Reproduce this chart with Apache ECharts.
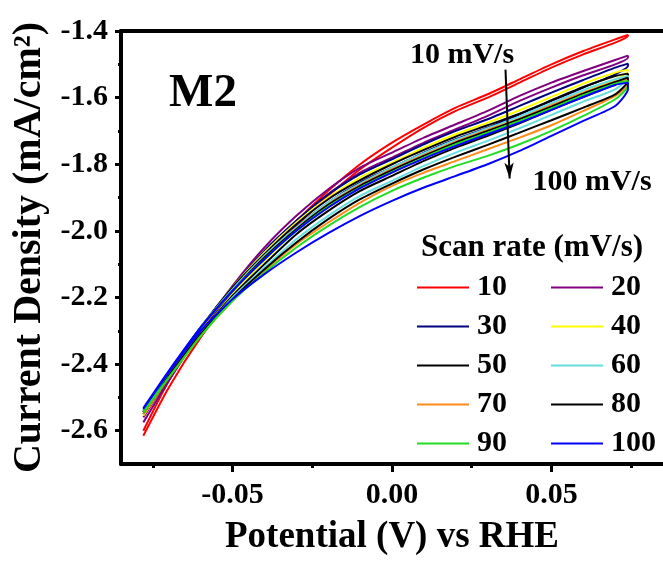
<!DOCTYPE html>
<html>
<head>
<meta charset="utf-8">
<script src="https://cdn.jsdelivr.net/npm/echarts@6/dist/echarts.min.js"></script>
<style>
html,body{margin:0;padding:0;background:#fff;}
#chart{width:663px;height:561px;}
</style>
</head>
<body>
<div id="chart"></div>
<script>
// ---- data ----
const potentials = [-0.078, -0.07, -0.06, -0.05, -0.04, -0.03, -0.02, -0.01, 0, 0.01, 0.02, 0.03, 0.04, 0.05, 0.06, 0.07, 0.074];
const scanRates = ['10', '20', '30', '40', '50', '60', '70', '80', '90', '100'];

const up10 = [-2.60, -2.45, -2.30, -2.18, -2.07, -1.97, -1.88, -1.80, -1.735, -1.68, -1.63, -1.59, -1.545, -1.50, -1.46, -1.425, -1.412];
const lo10 = [-2.615, -2.47, -2.32, -2.195, -2.085, -1.985, -1.895, -1.815, -1.75, -1.69, -1.64, -1.60, -1.555, -1.51, -1.47, -1.435, -1.415];
const up20 = [-2.56, -2.44, -2.295, -2.165, -2.05, -1.955, -1.875, -1.81, -1.765, -1.72, -1.68, -1.64, -1.595, -1.555, -1.52, -1.487, -1.474];
const lo20 = [-2.575, -2.45, -2.305, -2.175, -2.065, -1.97, -1.89, -1.825, -1.78, -1.735, -1.695, -1.655, -1.61, -1.57, -1.533, -1.50, -1.48];
const up30 = [-2.545, -2.43, -2.295, -2.17, -2.06, -1.97, -1.89, -1.83, -1.785, -1.74, -1.70, -1.665, -1.625, -1.585, -1.547, -1.51, -1.498];
const lo30 = [-2.55, -2.44, -2.305, -2.185, -2.08, -1.99, -1.915, -1.855, -1.81, -1.765, -1.725, -1.69, -1.65, -1.61, -1.57, -1.53, -1.505];
const up40 = [-2.55, -2.43, -2.295, -2.17, -2.065, -1.975, -1.90, -1.84, -1.795, -1.75, -1.71, -1.675, -1.638, -1.598, -1.558, -1.525, -1.516];
const lo40 = [-2.555, -2.44, -2.31, -2.19, -2.09, -2.00, -1.93, -1.87, -1.825, -1.78, -1.74, -1.705, -1.665, -1.625, -1.585, -1.545, -1.52];
const up50 = [-2.545, -2.43, -2.29, -2.17, -2.07, -1.98, -1.905, -1.848, -1.80, -1.757, -1.717, -1.683, -1.648, -1.608, -1.568, -1.535, -1.528];
const lo50 = [-2.55, -2.44, -2.31, -2.195, -2.10, -2.01, -1.94, -1.88, -1.835, -1.79, -1.75, -1.715, -1.677, -1.637, -1.598, -1.56, -1.532];
const up60 = [-2.54, -2.425, -2.29, -2.175, -2.075, -1.99, -1.915, -1.858, -1.81, -1.767, -1.727, -1.692, -1.657, -1.617, -1.578, -1.545, -1.535];
const lo60 = [-2.545, -2.435, -2.31, -2.20, -2.11, -2.025, -1.955, -1.895, -1.85, -1.805, -1.765, -1.73, -1.692, -1.652, -1.612, -1.575, -1.54];
const up70 = [-2.545, -2.43, -2.295, -2.18, -2.08, -1.995, -1.92, -1.862, -1.815, -1.772, -1.732, -1.697, -1.663, -1.623, -1.585, -1.552, -1.545];
const lo70 = [-2.55, -2.44, -2.315, -2.21, -2.12, -2.04, -1.975, -1.915, -1.865, -1.825, -1.79, -1.755, -1.72, -1.683, -1.64, -1.595, -1.56];
const up80 = [-2.54, -2.425, -2.29, -2.18, -2.08, -1.995, -1.922, -1.865, -1.818, -1.775, -1.735, -1.70, -1.665, -1.627, -1.588, -1.553, -1.54];
const lo80 = [-2.545, -2.435, -2.31, -2.205, -2.115, -2.035, -1.965, -1.905, -1.858, -1.815, -1.777, -1.742, -1.705, -1.668, -1.63, -1.59, -1.55];
const up90 = [-2.54, -2.425, -2.29, -2.18, -2.085, -2.00, -1.927, -1.87, -1.823, -1.78, -1.74, -1.705, -1.67, -1.632, -1.593, -1.558, -1.55];
const lo90 = [-2.545, -2.44, -2.315, -2.21, -2.125, -2.05, -1.985, -1.928, -1.88, -1.84, -1.805, -1.775, -1.74, -1.70, -1.655, -1.605, -1.565];
const up100 = [-2.532, -2.42, -2.29, -2.18, -2.085, -2.00, -1.93, -1.872, -1.825, -1.783, -1.745, -1.71, -1.675, -1.637, -1.598, -1.562, -1.555];
const lo100 = [-2.535, -2.425, -2.30, -2.205, -2.13, -2.065, -2.007, -1.955, -1.91, -1.87, -1.835, -1.80, -1.76, -1.715, -1.67, -1.625, -1.575];

const xMajorTicks = [-0.05, 0, 0.05];
const xMinorTicks = [-0.075, -0.025, 0.025, 0.075];
const yMajorTicks = [-2.6, -2.4, -2.2, -2.0, -1.8, -1.6, -1.4];
const yMinorTicks = [-2.5, -2.3, -2.1, -1.9, -1.7, -1.5];
const arrowStart = [0.0356, -1.516];
const arrowEnd = [0.0369, -1.843];

// ---- styles ----
const colors = ['#ff0000', '#800080', '#000080', '#ffff00', '#000000', '#66dede', '#ff8c1a', '#000000', '#22dd22', '#0000ff'];
const FONT = '"Liberation Serif", "Times New Roman", serif';

const uppers = [up10, up20, up30, up40, up50, up60, up70, up80, up90, up100];
const lowers = [lo10, lo20, lo30, lo40, lo50, lo60, lo70, lo80, lo90, lo100];

function loop(up, lo) {
  const d = [];
  for (let i = 0; i < potentials.length; i++) d.push([potentials[i], up[i]]);
  for (let i = potentials.length - 1; i >= 0; i--) d.push([potentials[i], lo[i]]);
  return d;
}

const series = scanRates.map((name, k) => {
  const s = {
    name: name,
    type: 'line',
    data: loop(uppers[k], lowers[k]),
    showSymbol: false,
    symbol: 'none',
    smooth: 0.2,
    color: colors[k],
    lineStyle: { width: 2, color: colors[k] },
    xAxisIndex: 0,
    yAxisIndex: 0,
    silent: true
  };
  if (k === 0) {
    s.markLine = {
      silent: true,
      symbol: ['none', 'arrow'],
      symbolSize: [7, 16],
      label: { show: false },
      lineStyle: { color: '#000', width: 2, type: 'solid' },
      data: [[{ coord: arrowStart }, { coord: arrowEnd }]]
    };
  }
  return s;
});

const tickLabelFont = { fontFamily: FONT, fontWeight: 'bold', fontSize: 30, color: '#000' };

const option = {
  animation: false,
  backgroundColor: '#fff',
  grid: { left: 121, right: 0, top: 31, bottom: 94, containLabel: false },
  xAxis: [
    {
      type: 'value', min: -0.085, max: 0.085, position: 'bottom',
      axisLine: { show: true, onZero: false, lineStyle: { color: '#000', width: 4 } },
      axisTick: { show: true, customValues: xMajorTicks, length: 8, lineStyle: { color: '#000', width: 3 } },
      axisLabel: Object.assign({ show: true, customValues: xMajorTicks, margin: 16,
        formatter: v => v.toFixed(2) }, tickLabelFont),
      splitLine: { show: false },
      name: 'Potential (V) vs RHE', nameLocation: 'middle', nameGap: 55,
      nameTextStyle: { fontFamily: FONT, fontWeight: 'bold', fontSize: 37, color: '#000' }
    },
    {
      type: 'value', min: -0.085, max: 0.085, position: 'bottom',
      axisLine: { show: false, onZero: false },
      axisTick: { show: true, customValues: xMinorTicks, length: 4, lineStyle: { color: '#000', width: 3 } },
      axisLabel: { show: false },
      splitLine: { show: false }
    },
    {
      type: 'value', min: -0.085, max: 0.085, position: 'top',
      axisLine: { show: true, onZero: false, lineStyle: { color: '#000', width: 4 } },
      axisTick: { show: false },
      axisLabel: { show: false },
      splitLine: { show: false }
    }
  ],
  yAxis: [
    {
      type: 'value', min: -2.7, max: -1.4, position: 'left',
      axisLine: { show: true, onZero: false, lineStyle: { color: '#000', width: 4 } },
      axisTick: { show: true, customValues: yMajorTicks, length: 6, lineStyle: { color: '#000', width: 3 } },
      axisLabel: Object.assign({ show: true, customValues: yMajorTicks, margin: 13,
        formatter: v => v.toFixed(1) }, tickLabelFont),
      splitLine: { show: false },
      name: 'Current Density (mA/cm²)', nameLocation: 'middle', nameGap: 59, nameRotate: 90,
      nameTextStyle: { fontFamily: FONT, fontWeight: 'bold', fontSize: 40, color: '#000' }
    },
    {
      type: 'value', min: -2.7, max: -1.4, position: 'left',
      axisLine: { show: false, onZero: false },
      axisTick: { show: true, customValues: yMinorTicks, length: 3, lineStyle: { color: '#000', width: 3 } },
      axisLabel: { show: false },
      splitLine: { show: false }
    }
  ],
  legend: {
    data: scanRates,
    orient: 'horizontal',
    left: 417, top: 270, width: 270,
    itemWidth: 52, itemHeight: 2, itemGap: 4,
    icon: 'rect',
    selectedMode: false,
    padding: 0,
    textStyle: { fontFamily: FONT, fontWeight: 'bold', fontSize: 30, color: '#000', width: 70, lineHeight: 35, padding: [0, 0, 0, 3] }
  },
  graphic: [
    { type: 'text', x: 203, y: 94, style: { text: 'M2', font: 'bold 47px ' + FONT, fill: '#000', textAlign: 'center', textVerticalAlign: 'middle' } },
    { type: 'text', x: 462, y: 55, style: { text: '10 mV/s', font: 'bold 30px ' + FONT, fill: '#000', textAlign: 'center', textVerticalAlign: 'middle' } },
    { type: 'text', x: 592, y: 182, style: { text: '100 mV/s', font: 'bold 30px ' + FONT, fill: '#000', textAlign: 'center', textVerticalAlign: 'middle' } },
    { type: 'text', x: 532, y: 248, style: { text: 'Scan rate (mV/s)', font: 'bold 31px ' + FONT, fill: '#000', textAlign: 'center', textVerticalAlign: 'middle' } }
  ],
  series: series
};

const chart = echarts.init(document.getElementById('chart'), null, { renderer: 'canvas' });
chart.setOption(option);
</script>
</body>
</html>
